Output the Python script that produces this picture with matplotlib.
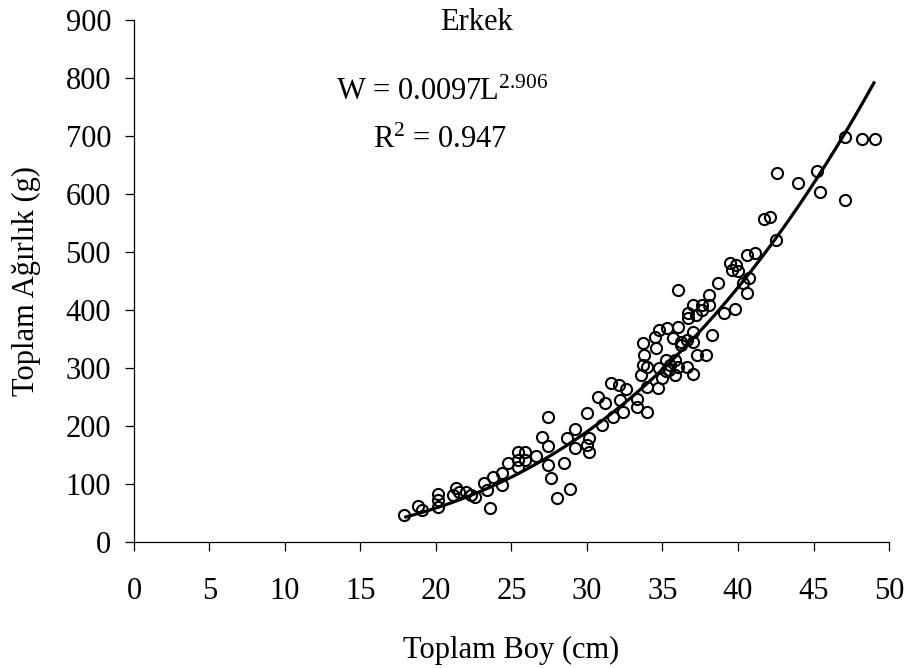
import numpy as np
import matplotlib
matplotlib.use("Agg")
import matplotlib.pyplot as plt

plt.rcParams['font.family'] = ['Liberation Serif', 'DejaVu Serif']
plt.rcParams['mathtext.fontset'] = 'custom'
plt.rcParams['mathtext.rm'] = 'Liberation Serif'
plt.rcParams['mathtext.it'] = 'Liberation Serif:italic'

# length (cm) / weight (g)
boy = [17.9, 18.8, 19.1, 20.1, 20.1, 20.1, 21.1, 21.3, 21.5, 22.0, 22.3, 22.6,
       23.2, 23.4, 23.6, 23.8, 24.4, 24.4, 24.8, 25.4, 25.4, 25.4, 25.9, 25.9,
       26.6, 27.0, 27.4, 27.4, 27.4, 27.6, 28.0, 28.5, 28.7, 28.9, 29.2, 29.2,
       30.0, 30.0, 30.1, 30.1, 30.7, 31.0, 31.2, 31.6, 31.7, 32.1, 32.2, 32.4,
       32.6, 33.3, 33.3, 33.6, 33.7, 33.7, 33.8, 34.0, 34.0, 34.0,
       34.5, 34.6, 34.7, 34.8, 34.8, 35.0, 35.2, 35.2, 35.3, 35.4, 35.5, 35.7,
       35.8, 35.8, 36.0, 36.0, 36.0, 36.2, 36.2, 36.6, 36.6, 36.7, 36.7, 37.0,
       37.0, 37.0, 37.0, 37.2, 37.3, 37.6, 37.6, 37.9, 38.1, 38.1, 38.3, 38.7,
       39.1, 39.5, 39.6, 39.8, 39.9, 40.0, 40.3, 40.6, 40.6, 40.7, 41.1, 41.7,
       42.1, 42.5, 42.6, 44.0, 45.2, 45.4, 47.1, 47.1, 48.2, 49.1]
agirlik = [46, 62, 55, 83, 72, 60, 81, 93, 86, 86, 81, 78,
           102, 90, 59, 112, 119, 98, 136, 155, 141, 129, 155, 141,
           148, 181, 216, 166, 133, 110, 76, 136, 179, 91, 195, 162,
           222, 167, 179, 155, 250, 202, 240, 274, 216, 271, 245, 224,
           264, 247, 233, 288, 343, 305, 322, 302, 267, 224,
           353, 334, 266, 366, 300, 283, 314, 295, 369, 297, 305, 352,
           288, 314, 371, 434, 302, 345, 340, 348, 302, 395, 386, 409,
           362, 345, 290, 391, 322, 400, 409, 322, 409, 426, 357, 447,
           395, 481, 469, 402, 478, 467, 447, 429, 495, 455, 498, 557,
           560, 521, 636, 619, 640, 603, 590, 698, 695, 695]

# fitted power curve W = a * L^b
a, b = 0.0097, 2.906
L_min, L_max = 18, 49

x_ticks = [0, 5, 10, 15, 20, 25, 30, 35, 40, 45, 50]
y_ticks = [0, 100, 200, 300, 400, 500, 600, 700, 800, 900]

fig = plt.figure(figsize=(9.09, 6.68), dpi=100)
ax = fig.add_axes([0.1474, 0.1886, 0.8306, 0.7815])

L = np.linspace(L_min, L_max, 200)
ax.plot(L, a * L ** b, color='black', lw=2.3, zorder=3)
ax.plot(boy, agirlik, linestyle='none', marker='o', ms=8, mfc='none',
        mec='black', mew=1.5, zorder=4)

ax.set_xlim(0, 50)
ax.set_ylim(0, 900)
ax.set_xticks(x_ticks)
ax.set_yticks(y_ticks)
ax.spines['top'].set_visible(False)
ax.spines['right'].set_visible(False)
for s in ['left', 'bottom']:
    ax.spines[s].set_linewidth(0.9)
ax.tick_params(direction='out', length=6.5, width=0.9, labelsize=22)
ax.tick_params(axis='x', pad=19)
ax.tick_params(axis='y', pad=10)

ax.set_xlabel('Toplam Boy (cm)', fontsize=22, labelpad=21)
ax.set_ylabel('Toplam Ağırlık (g)', fontsize=22, labelpad=18)

ax.text(22.7, 883, 'Erkek', ha='center', va='baseline', fontsize=22)
ax.text(20.4, 762, r'W = 0.0097L$^{\mathrm{2.906}}$', ha='center',
        va='baseline', fontsize=22)
ax.text(20.3, 679, r'R$^{\mathrm{2}}$ = 0.947', ha='center', va='baseline',
        fontsize=22)

fig.savefig('out.png', dpi=100)
